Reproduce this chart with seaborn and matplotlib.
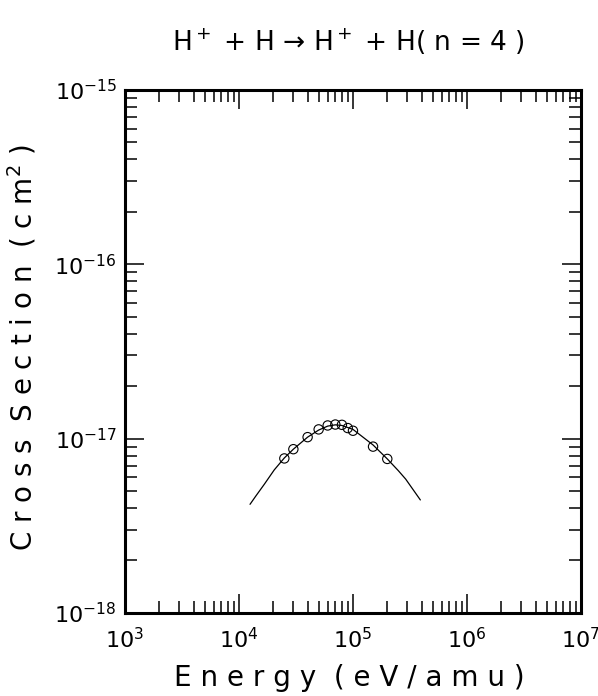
import numpy as np
import pandas as pd
import seaborn as sns
import matplotlib
matplotlib.use("Agg")
import matplotlib.pyplot as plt
from matplotlib.ticker import LogLocator, LogFormatterMathtext, NullFormatter

sns.set_style("ticks")
plt.rcParams['font.family'] = ['DejaVu Sans']
plt.rcParams['mathtext.fontset'] = 'dejavusans'
plt.rcParams['text.color'] = 'black'
plt.rcParams['xtick.color'] = 'black'
plt.rcParams['ytick.color'] = 'black'

# measured points (eV/amu, cm^2)
energy_pts = [2.5e4, 3e4, 4e4, 5e4, 6e4, 7e4, 8e4, 9e4, 1e5, 1.5e5, 2e5]
sigma_pts = [7.7e-18, 8.7e-18, 1.02e-17, 1.13e-17, 1.19e-17, 1.205e-17,
             1.2e-17, 1.15e-17, 1.11e-17, 9.0e-18, 7.65e-18]

# fitted curve
energy_fit = [1.25e4, 1.4e4, 1.67e4, 2.04e4, 2.5e4, 3e4, 4e4, 5e4, 6e4, 7e4, 8e4,
              1e5, 1.5e5, 2e5, 2.5e5, 2.9e5, 3.9e5]
sigma_fit = [4.2e-18, 4.67e-18, 5.48e-18, 6.62e-18, 7.75e-18, 8.7e-18, 1.02e-17, 1.12e-17,
             1.18e-17, 1.2e-17, 1.19e-17, 1.13e-17, 9.2e-18, 7.65e-18, 6.55e-18,
             5.86e-18, 4.45e-18]

df_pts = pd.DataFrame({"E": energy_pts, "sigma": sigma_pts})
df_fit = pd.DataFrame({"E": energy_fit, "sigma": sigma_fit})

fig = plt.figure(figsize=(5.98, 6.96), dpi=100)
ax = fig.add_axes([0.209, 0.1193, 0.7625, 0.7514])

sns.lineplot(data=df_fit, x="E", y="sigma", ax=ax, color="black", linewidth=0.9, sort=False)
sns.scatterplot(data=df_pts, x="E", y="sigma", ax=ax, marker="o", s=45,
                facecolor="none", edgecolor="black", linewidth=0.8, zorder=3)

ax.set_xscale("log")
ax.set_yscale("log")
ax.set_xlim(1e3, 1e7)
ax.set_ylim(1e-18, 1e-15)

for axis in (ax.xaxis, ax.yaxis):
    axis.set_major_locator(LogLocator(base=10, numticks=10))
    axis.set_minor_locator(LogLocator(base=10, subs=np.arange(2, 10), numticks=10))
    axis.set_major_formatter(LogFormatterMathtext())
    axis.set_minor_formatter(NullFormatter())

ax.tick_params(which="both", direction="in", top=True, right=True, width=1.1)
ax.tick_params(which="major", length=14, labelsize=16)
ax.tick_params(axis="x", which="major", pad=10)
ax.tick_params(axis="y", which="major", pad=6)
ax.tick_params(which="minor", length=8.5)
for sp in ax.spines.values():
    sp.set_linewidth(2.2)
    sp.set_color("black")
    sp.set_visible(True)

ax.set_xlabel("")
ax.set_ylabel("")
fig.text(0.584, 0.026, "E n e r g y  ( e V / a m u )", ha="center", va="center", fontsize=20)
fig.text(0.037, 0.5, "C r o s s  S e c t i o n  ( c m$^2$ )", ha="center", va="center",
         rotation=90, fontsize=20)
fig.text(0.582, 0.94, "H$^+$ + H \u2192 H$^+$ + H( n = 4 )", ha="center", va="center",
         fontsize=19)

fig.savefig("out.png", dpi=100)
